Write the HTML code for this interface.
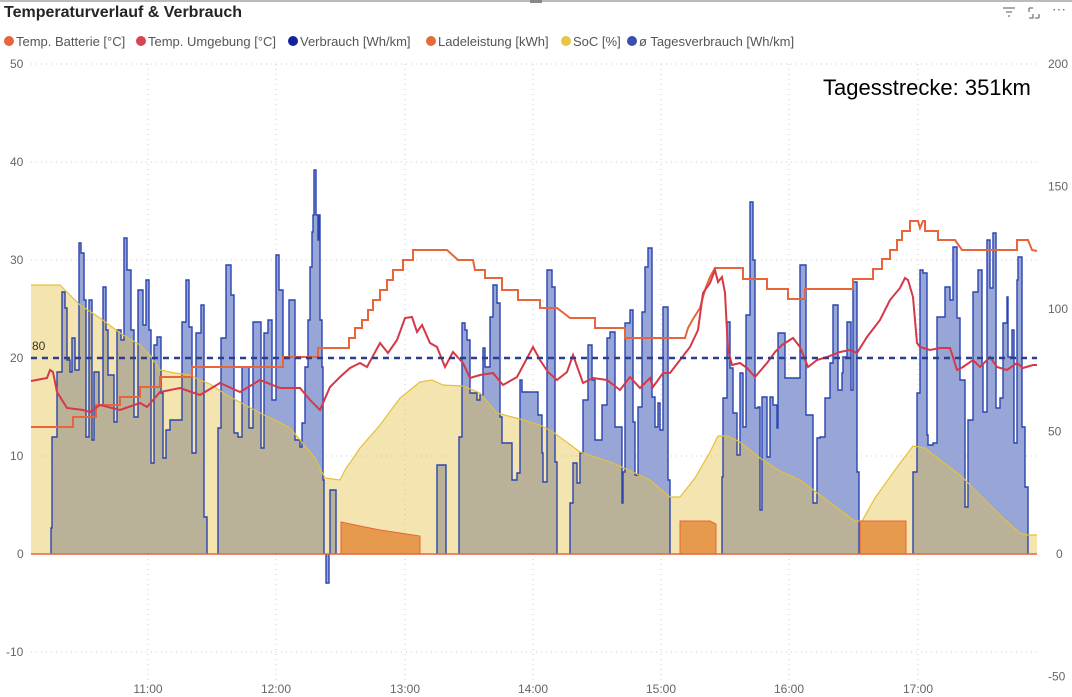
<!DOCTYPE html>
<html><head><meta charset="utf-8"><style>
html,body{margin:0;padding:0;background:#fff;width:1072px;height:697px;overflow:hidden;font-family:"Liberation Sans",sans-serif}
</style></head><body>
<svg id="s" width="1072" height="697" xmlns="http://www.w3.org/2000/svg" style="position:absolute;left:0;top:0">
<line x1="0" y1="1" x2="1072" y2="1" stroke="#bbb" stroke-width="2"/>
<rect x="530" y="0" width="12" height="3" fill="#888"/>
<text x="4" y="17" font-size="16" font-weight="bold" fill="#252423">Temperaturverlauf &amp; Verbrauch</text>
<g font-size="13" fill="#555">
<circle cx="9" cy="41" r="5" fill="#E8643A"/><text x="16" y="46">Temp. Batterie [°C]</text>
<circle cx="141" cy="41" r="5" fill="#D64550"/><text x="148" y="46">Temp. Umgebung [°C]</text>
<circle cx="293" cy="41" r="5" fill="#12239E"/><text x="300" y="46">Verbrauch [Wh/km]</text>
<circle cx="431" cy="41" r="5" fill="#E66C37"/><text x="438" y="46">Ladeleistung [kWh]</text>
<circle cx="566" cy="41" r="5" fill="#E8C547"/><text x="573" y="46">SoC [%]</text>
<circle cx="632" cy="41" r="5" fill="#3B4FAD"/><text x="639" y="46">ø Tagesverbrauch [Wh/km]</text>
</g>
<g stroke="#777" stroke-width="1.3" fill="none">
<path d="M1003 8h12M1006 12h6M1008 16h2"/>
<path d="M1029 8v-0M1029 8h4M1029 8v4M1039 18h-4M1039 18v-4M1029 18h4v-4M1029 18"/>
</g>
<text x="1052" y="14" font-size="14" fill="#777">⋯</text>
<g id="grid" stroke="#ccc" stroke-width="1" stroke-dasharray="1,4"></g>
<g id="ylab" font-size="12" fill="#666"></g>
<g id="data"></g>
<text x="823" y="95" font-size="22" fill="#000">Tagesstrecke: 351km</text>
</svg>
<script>
const NS="http://www.w3.org/2000/svg";
function el(p,t,a,txt){const e=document.createElementNS(NS,t);for(const k in a)e.setAttribute(k,a[k]);if(txt!==undefined)e.textContent=txt;document.getElementById(p).appendChild(e);return e;}
const L=31,R=1037;
[50,40,30,20,10,0,-10].forEach(v=>{const y=554-v*9.8;el('grid','line',{x1:L,y1:y,x2:R,y2:y});el('ylab','text',{x:v<0?6:(v==0?17:10),y:y+4},String(v));});
[200,150,100,50,0,-50].forEach(v=>{const y=554-v*2.45;el('ylab','text',{x:v<0?1048:(v==0?1056:1048),y:y+4},String(v));});
const xt=[[148,"11:00"],[276,"12:00"],[405,"13:00"],[533,"14:00"],[661,"15:00"],[789,"16:00"],[918,"17:00"]];
xt.forEach(([x,t])=>{el('grid','line',{x1:x,y1:64,x2:x,y2:680});el('ylab','text',{x:x,y:693,'text-anchor':'middle'},t);});
function step(pts,end){let d=`M${pts[0][0]} 554V${pts[0][1]}`;for(let i=1;i<pts.length;i++)d+=`H${pts[i][0]}V${pts[i][1]}`;d+=`H${end}V554`;return d;}
const segs=[
[[[51,528],[52,437],[57,372],[62,292],[65,308],[67,360],[70,372],[72,338],[75,370],[79,243],[81,253],[84,300],[86,437],[89,300],[92,440],[94,372],[99,405],[103,287],[106,330],[108,375],[114,422],[117,330],[121,340],[124,238],[127,270],[131,330],[134,417],[138,290],[143,325],[146,280],[149,330],[151,463],[154,345],[157,337],[161,393],[163,458],[166,430],[170,420],[182,322],[186,280],[189,327],[192,453],[196,333],[201,305],[204,517]],207],
[[[218,428],[221,338],[226,265],[231,295],[234,433],[238,437],[242,367],[249,428],[253,322],[261,448],[264,333],[268,320],[272,400],[276,255],[279,290],[283,357],[289,300],[295,440],[300,447],[302,423],[305,367],[308,320],[310,267],[312,232],[313,215],[314,170],[316,215],[318,240],[319,215],[320,320],[322,367],[323,480]],324],
[[[326,583]],329],[[[330,490]],336],[[[437,465]],446],
[[[459,437],[462,323],[465,330],[467,340],[470,393],[477,400],[480,395],[483,348],[485,367],[490,317],[493,285],[497,303],[500,417],[502,443],[512,480],[517,473],[520,380],[522,392],[538,415],[542,453],[543,482],[547,270],[552,287],[555,462]],557],
[[[570,503],[573,463],[577,483],[580,453],[583,400],[588,345],[592,380],[595,440],[602,405],[607,338],[610,332],[615,427],[622,503],[623,472],[625,323],[630,310],[633,422],[635,475],[638,407],[642,312],[645,267],[648,248],[652,397],[655,427],[658,403],[660,430],[663,307],[668,480]],670],
[[[722,477],[723,398],[727,322],[730,368],[733,413],[737,455],[740,373],[743,427],[746,315],[750,202],[753,260],[755,408],[758,407],[760,510],[762,397],[767,457],[770,397],[773,405],[777,428],[778,333],[785,378],[800,265],[806,415],[813,503],[817,438],[820,437],[825,398],[830,363],[833,305],[838,390],[842,373],[843,357],[847,322],[851,390],[853,282],[857,472]],859],
[[[913,472],[917,393],[920,270],[923,273],[927,435],[928,445],[933,443],[937,317],[942,317],[945,287],[948,287],[950,300],[953,247],[957,318],[960,380],[965,507],[968,420],[973,292],[978,270],[982,365],[983,412],[987,240],[990,288],[993,233],[996,408],[1000,398],[1003,323],[1007,297],[1008,357],[1012,330],[1014,443],[1017,280],[1018,257],[1022,427],[1025,487]],1028]
];
let blue="";segs.forEach(([p,e])=>blue+=step(p,e));
const soc=[[31,285],[60,285],[70,295],[80,305],[100,318],[120,333],[140,345],[150,355],[160,370],[175,373],[190,375],[200,380],[210,384],[225,394],[245,405],[262,414],[275,420],[290,428],[300,440],[315,458],[325,478],[340,480],[345,470],[360,448],[380,425],[400,398],[420,382],[432,380],[443,385],[463,386],[480,393],[497,413],[520,419],[540,425],[553,432],[580,452],[613,463],[650,480],[670,497],[680,497],[695,478],[710,452],[718,436],[728,436],[740,442],[760,458],[780,471],[800,480],[820,495],[840,510],[855,521],[862,521],[875,498],[895,470],[913,446],[925,448],[940,460],[960,475],[975,490],[990,505],[1005,520],[1020,533],[1027,535],[1037,535]];
const socL=soc.map(p=>p.join(' ')).join(' L');
const bat=[[31,427],[73,427],[73,417],[96,417],[96,405],[120,405],[120,397],[140,397],[140,387],[160,387],[160,377],[192,377],[192,367],[283,367],[283,357],[318,357],[318,348],[349,348],[349,338],[355,338],[355,328],[362,328],[362,320],[368,320],[368,310],[373,310],[373,300],[380,300],[380,290],[387,290],[387,280],[393,280],[393,270],[403,270],[403,260],[413,260],[413,250],[447,250],[458,260],[473,260],[475,270],[485,270],[485,278],[502,278],[502,290],[518,290],[518,300],[540,300],[540,308],[557,308],[570,318],[595,318],[595,328],[625,328],[625,338],[685,338],[688,328],[693,319],[700,308],[703,297],[706,287],[710,277],[715,268],[743,268],[743,279],[767,279],[767,289],[788,289],[788,299],[805,299],[805,289],[853,289],[853,279],[873,279],[873,269],[882,269],[882,259],[890,259],[890,250],[897,250],[897,240],[902,240],[902,231],[910,231],[910,221],[918,221],[920,228],[923,221],[925,221],[925,231],[938,231],[938,240],[955,240],[962,250],[1017,250],[1017,240],[1028,240],[1032,250],[1037,251]];
const red=[[31,381],[47,378],[50,370],[53,372],[57,392],[67,408],[83,410],[90,412],[100,405],[120,410],[140,403],[147,407],[160,392],[180,388],[200,395],[220,383],[240,392],[260,380],[280,388],[300,388],[310,400],[320,410],[330,387],[340,377],[350,368],[360,363],[367,367],[380,343],[388,353],[397,340],[405,318],[412,317],[417,332],[422,325],[430,343],[437,347],[445,367],[453,352],[463,363],[470,378],[480,375],[493,373],[503,385],[517,377],[533,347],[540,360],[548,372],[557,380],[567,372],[573,355],[583,383],[593,378],[607,380],[620,390],[630,377],[640,388],[650,378],[653,387],[663,373],[670,373],[680,360],[690,347],[698,330],[703,293],[710,283],[715,270],[718,282],[722,277],[725,293],[728,350],[732,365],[740,363],[747,368],[755,377],[767,363],[775,352],[782,345],[793,338],[800,347],[808,367],[817,360],[827,357],[840,352],[850,350],[857,353],[867,337],[880,320],[890,300],[900,288],[905,278],[908,280],[913,297],[917,343],[920,347],[930,350],[940,348],[950,348],[953,357],[957,370],[963,367],[973,360],[980,367],[990,357],[997,367],[1007,370],[1017,363],[1023,368],[1033,365],[1037,365]];
const ln=a=>'M'+a.map(p=>p.join(' ')).join(' L');
const g='data';
el(g,'path',{d:blue,fill:'#97a6d7',stroke:'none'});
el(g,'path',{d:'M31 554 L'+socL+' L1037 554Z',fill:'rgb(230,194,75)','fill-opacity':0.44});
el(g,'path',{d:blue,fill:'none',stroke:'#2a45b0','stroke-width':1.4});
el(g,'path',{d:'M'+socL,fill:'none',stroke:'#e3c13b','stroke-width':1.2});
el(g,'path',{d:'M341 554V522L360 526L380 530L400 533L420 536V554ZM680 554V521H710L716 524V554ZM860 554V521H906V554Z',fill:'#e59a4e',stroke:'#E8643A','stroke-width':1});
el(g,'line',{x1:L,y1:554,x2:R,y2:554,stroke:'#E8643A','stroke-width':1.5});
el(g,'path',{d:ln(bat),fill:'none',stroke:'#E8643A','stroke-width':2});
el(g,'path',{d:ln(red),fill:'none',stroke:'#D63848','stroke-width':2});
el(g,'line',{x1:L,y1:358,x2:R,y2:358,stroke:'#2c3e8c','stroke-width':2.5,'stroke-dasharray':'6,5'});
el(g,'text',{x:32,y:350,'font-size':12,fill:'#333'},'80');
</script>
</body></html>
